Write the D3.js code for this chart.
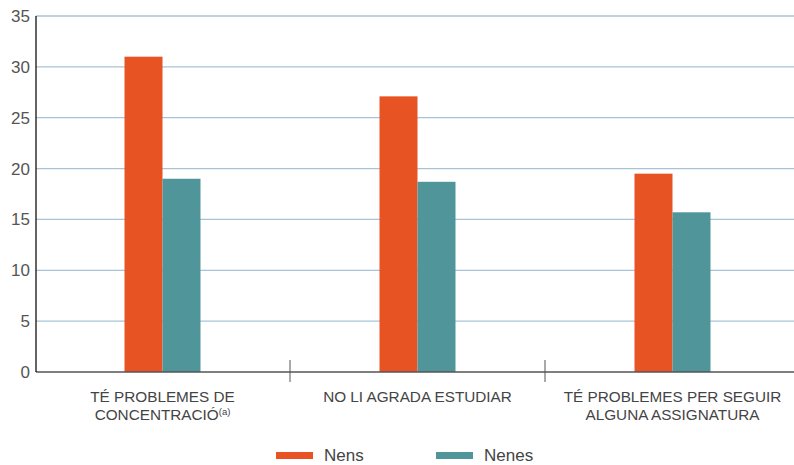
<!DOCTYPE html>
<html><head><meta charset="utf-8">
<script src="https://cdn.jsdelivr.net/npm/d3@7"></script>
<style>body{margin:0;background:#fff;}svg{display:block;font-family:"Liberation Sans",Arial,sans-serif;}</style>
</head><body><svg id="c" width="794" height="465"></svg>
<script>
const categories = ["TÉ PROBLEMES DE CONCENTRACIÓ", "NO LI AGRADA ESTUDIAR", "TÉ PROBLEMES PER SEGUIR ALGUNA ASSIGNATURA"];
const categoryLines = [["TÉ PROBLEMES DE", "CONCENTRACIÓ"], ["NO LI AGRADA ESTUDIAR"], ["TÉ PROBLEMES PER SEGUIR", "ALGUNA ASSIGNATURA"]];
const categoryNotes = ["(a)", "", ""];
const seriesNames = ["Nens", "Nenes"];
const nens = [31.0, 27.1, 19.5];
const nenes = [19.0, 18.7, 15.7];
const yTicks = [0, 5, 10, 15, 20, 25, 30, 35];
const colors = ["#e85324", "#50959a"];

(function () {
const svg = d3.select("#c");
const mL = 36, mR = 800, mT = 16, mB = 372;
const x0 = d3.scaleBand().domain(categories).range([mL - 1, mR]);
const x1 = d3.scaleBand().domain(seriesNames).range([0, 76]);
const y = d3.scaleLinear().domain([0, 35]).range([mB, mT]);

// gridlines
svg.append("g").selectAll("line").data(yTicks.filter(d => d > 0)).join("line")
  .attr("x1", mL).attr("x2", 794).attr("y1", d => y(d)).attr("y2", d => y(d))
  .attr("stroke", "#a8c3d8").attr("stroke-width", 1.3);

// y axis labels
svg.append("g").selectAll("text").data(yTicks).join("text")
  .attr("x", 30).attr("y", d => y(d) + 6).attr("text-anchor", "end")
  .attr("font-size", 17).attr("fill", "#555").text(d => d);

// bars
const data = categories.map((c, i) => ({c, vals: [nens[i], nenes[i]]}));
const g = svg.append("g").selectAll("g").data(data).join("g")
  .attr("transform", d => `translate(${x0(d.c) + x0.bandwidth()/2 - 38},0)`);
g.selectAll("rect").data(d => d.vals.map((v, j) => ({s: seriesNames[j], v, j}))).join("rect")
  .attr("x", d => x1(d.s)).attr("width", x1.bandwidth())
  .attr("y", d => y(d.v)).attr("height", d => y(0) - y(d.v))
  .attr("fill", d => colors[d.j]);

// axes lines
svg.append("line").attr("x1", mL).attr("x2", 794).attr("y1", mB).attr("y2", mB)
  .attr("stroke", "#555").attr("stroke-width", 1.5);
svg.append("line").attr("x1", mL).attr("x2", mL).attr("y1", mT).attr("y2", mB)
  .attr("stroke", "#111").attr("stroke-width", 1.3);
// category separators
svg.append("g").selectAll("line").data(categories.slice(1)).join("line")
  .attr("x1", d => Math.round(x0(d))).attr("x2", d => Math.round(x0(d))).attr("y1", mB - 12).attr("y2", mB + 10)
  .attr("stroke", "#555").attr("stroke-width", 1);

// category labels
categories.forEach((c, i) => {
  const cx = x0(c) + x0.bandwidth()/2;
  const lines = categoryLines[i];
  lines.forEach((ln, k) => {
    const t = svg.append("text").attr("x", cx).attr("y", 402 + k * 18)
      .attr("text-anchor", "middle").attr("font-size", 15.3).attr("fill", "#444");
    t.append("tspan").text(ln);
    if (k === lines.length - 1 && categoryNotes[i]) {
      t.append("tspan").attr("font-size", 9.5).attr("dy", -5).text(categoryNotes[i]);
    }
  });
});

// legend
const lx = [276, 436];
seriesNames.forEach((s, i) => {
  svg.append("rect").attr("x", lx[i]).attr("y", 452).attr("width", 37).attr("height", 7).attr("fill", colors[i]);
  svg.append("text").attr("x", lx[i] + 48).attr("y", 461).attr("font-size", 17).attr("fill", "#444").text(s);
});
})();
</script></body></html>
